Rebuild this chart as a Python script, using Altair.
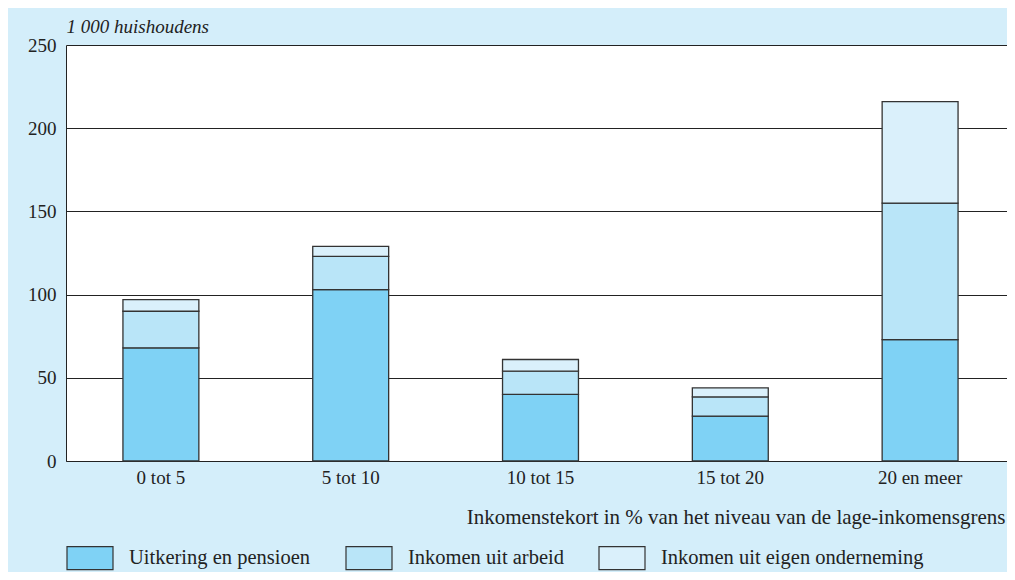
import altair as alt
import pandas as pd

categories = ["0 tot 5", "5 tot 10", "10 tot 15", "15 tot 20", "20 en meer"]
series = ["Uitkering en pensioen", "Inkomen uit arbeid", "Inkomen uit eigen onderneming"]
uitkering = [68, 103, 40, 27, 73]
arbeid = [22, 20, 14, 11.5, 82]
onderneming = [7, 6, 7, 5.5, 61]
colors = ["#7fd2f5", "#b9e5f8", "#daf0fb"]

rows = []
for i, c in enumerate(categories):
    for k, (s, vals) in enumerate(zip(series, [uitkering, arbeid, onderneming])):
        rows.append({"cat": c, "bron": s, "waarde": vals[i], "volg": k})
df = pd.DataFrame(rows)

FONT = "Liberation Serif"

chart = alt.Chart(df).mark_bar(stroke="#333333", strokeWidth=1.3).encode(
    x=alt.X("cat:N", sort=categories,
            scale=alt.Scale(paddingInner=0.6, paddingOuter=0.3, range=[0, 949]),
            axis=alt.Axis(title="Inkomenstekort in % van het niveau van de lage-inkomensgrens",
                          titleX=939, titleAlign="right", titleFontWeight="normal", titleFont=FONT,
                          titleFontSize=21, titleColor="#222", titlePadding=19,
                          labelAngle=0, labelFont=FONT, labelFontSize=19, labelColor="#222",
                          labelPadding=7, ticks=False, domainColor="#222", grid=False)),
    y=alt.Y("waarde:Q", stack="zero",
            scale=alt.Scale(domain=[0, 250], nice=False),
            axis=alt.Axis(values=[0, 50, 100, 150, 200, 250],
                          title="1 000 huishoudens", titleAngle=0, titleFontStyle="italic",
                          titleFontWeight="normal", titleFont=FONT, titleFontSize=19,
                          titleColor="#222", titleAlign="left", titleBaseline="middle",
                          titleX=0, titleY=-19,
                          labelFont=FONT, labelFontSize=19, labelColor="#222",
                          labelPadding=10, ticks=False, domainColor="#222",
                          grid=True, gridColor="#222", gridWidth=1)),
    color=alt.Color("bron:N", sort=series,
                    scale=alt.Scale(domain=series, range=colors),
                    legend=alt.Legend(title=None, orient="none", legendX=0, legendY=489,
                                      direction="horizontal", columns=3,
                                      symbolType="M-1,-0.5H1V0.5H-1Z", symbolSize=2116,
                                      symbolStrokeColor="#333333", symbolStrokeWidth=1.2,
                                      symbolOpacity=1,
                                      labelFont=FONT, labelFontSize=20.5, labelColor="#222",
                                      labelOffset=15, columnPadding=32, labelLimit=400)),
    order=alt.Order("volg:Q", sort="ascending"),
).properties(
    width=941, height=416,
    autosize=alt.AutoSizeParams(type="none"),
    padding={"left": 58, "top": 37, "right": 0, "bottom": 111},
    background="#d4eefa",
).configure_view(fill="white", stroke=None)

chart.save("out.html", embed_options={"renderer": "svg", "actions": False})
